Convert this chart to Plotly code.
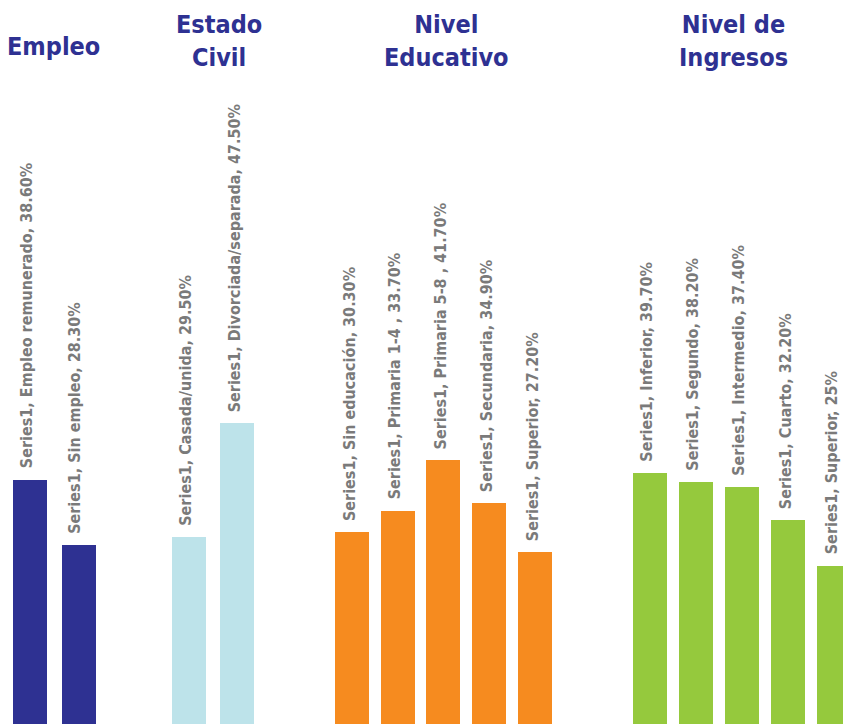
import plotly.graph_objects as go

# Category groups and their percentages
empleo_cats = ["Empleo remunerado", "Sin empleo"]
empleo_vals = [38.6, 28.3]
empleo_txt = ["38.60%", "28.30%"]

civil_cats = ["Casada/unida", "Divorciada/separada"]
civil_vals = [29.5, 47.5]
civil_txt = ["29.50%", "47.50%"]

educ_cats = ["Sin educación", "Primaria 1-4 ", "Primaria 5-8 ", "Secundaria", "Superior"]
educ_vals = [30.3, 33.7, 41.7, 34.9, 27.2]
educ_txt = ["30.30%", "33.70%", "41.70%", "34.90%", "27.20%"]

ingr_cats = ["Inferior", "Segundo", "Intermedio", "Cuarto", "Superior"]
ingr_vals = [39.7, 38.2, 37.4, 32.2, 25]
ingr_txt = ["39.70%", "38.20%", "37.40%", "32.20%", "25%"]

series_name = "Series1"
titles = ["Empleo", "Estado<br>Civil", "Nivel<br>Educativo", "Nivel de<br>Ingresos"]

W, H = 843, 724
FONT = "DejaVu Sans Condensed, DejaVu Sans, sans-serif"

groups = [
    dict(cats=empleo_cats, vals=empleo_vals, txt=empleo_txt, color="#2e3192",
         slot=49, left=4.5, title_x=53, title_y=46),
    dict(cats=civil_cats, vals=civil_vals, txt=civil_txt, color="#bde3ea",
         slot=48, left=165, title_x=219, title_y=41),
    dict(cats=educ_cats, vals=educ_vals, txt=educ_txt, color="#f68b1f",
         slot=45.75, left=329, title_x=447, title_y=41),
    dict(cats=ingr_cats, vals=ingr_vals, txt=ingr_txt, color="#95c93d",
         slot=46, left=627, title_x=733, title_y=41),
]

BAR_PX = 34
PX_PER_UNIT = 6.33
y_max = H / PX_PER_UNIT

fig = go.Figure()
annotations = []
layout_axes = {}

for i, g in enumerate(groups):
    ax = "" if i == 0 else str(i + 1)
    xref = "x" + ax
    n = len(g["cats"])
    right = g["left"] + n * g["slot"]
    vis_right = min(right, W)
    hi = -0.5 + (vis_right - g["left"]) / g["slot"]
    layout_axes["xaxis" + ax] = dict(
        domain=[g["left"] / W, vis_right / W], range=[-0.5, hi],
        visible=False, anchor="y", type="category",
    )
    fig.add_trace(go.Bar(
        x=g["cats"], y=g["vals"], xaxis=xref, yaxis="y",
        marker=dict(color=g["color"], line=dict(width=0)),
        width=BAR_PX / g["slot"], showlegend=False, hoverinfo="skip",
    ))
    for c, v, t in zip(g["cats"], g["vals"], g["txt"]):
        annotations.append(dict(
            x=c, y=v, xref=xref, yref="y",
            text=f"{series_name}, {c}, {t}",
            textangle=-90, showarrow=False,
            xanchor="center", yanchor="bottom", yshift=9, xshift=-3,
            font=dict(family=FONT, size=16, color="#7a7a7a", weight="bold"),
        ))
    annotations.append(dict(
        x=g["title_x"] / W, y=1 - g["title_y"] / H, xref="paper", yref="paper",
        text="<b>" + titles[i] + "</b>", showarrow=False,
        xanchor="center", yanchor="middle", align="center",
        font=dict(family=FONT, size=25, color="#2e3192"),
    ))

fig.update_layout(
    width=W, height=H,
    margin=dict(l=0, r=0, t=0, b=0),
    paper_bgcolor="white", plot_bgcolor="white",
    yaxis=dict(domain=[0, 1], range=[0, y_max], visible=False, fixedrange=True),
    annotations=annotations,
    bargap=0,
    **layout_axes,
)

fig.write_html("out.html")
